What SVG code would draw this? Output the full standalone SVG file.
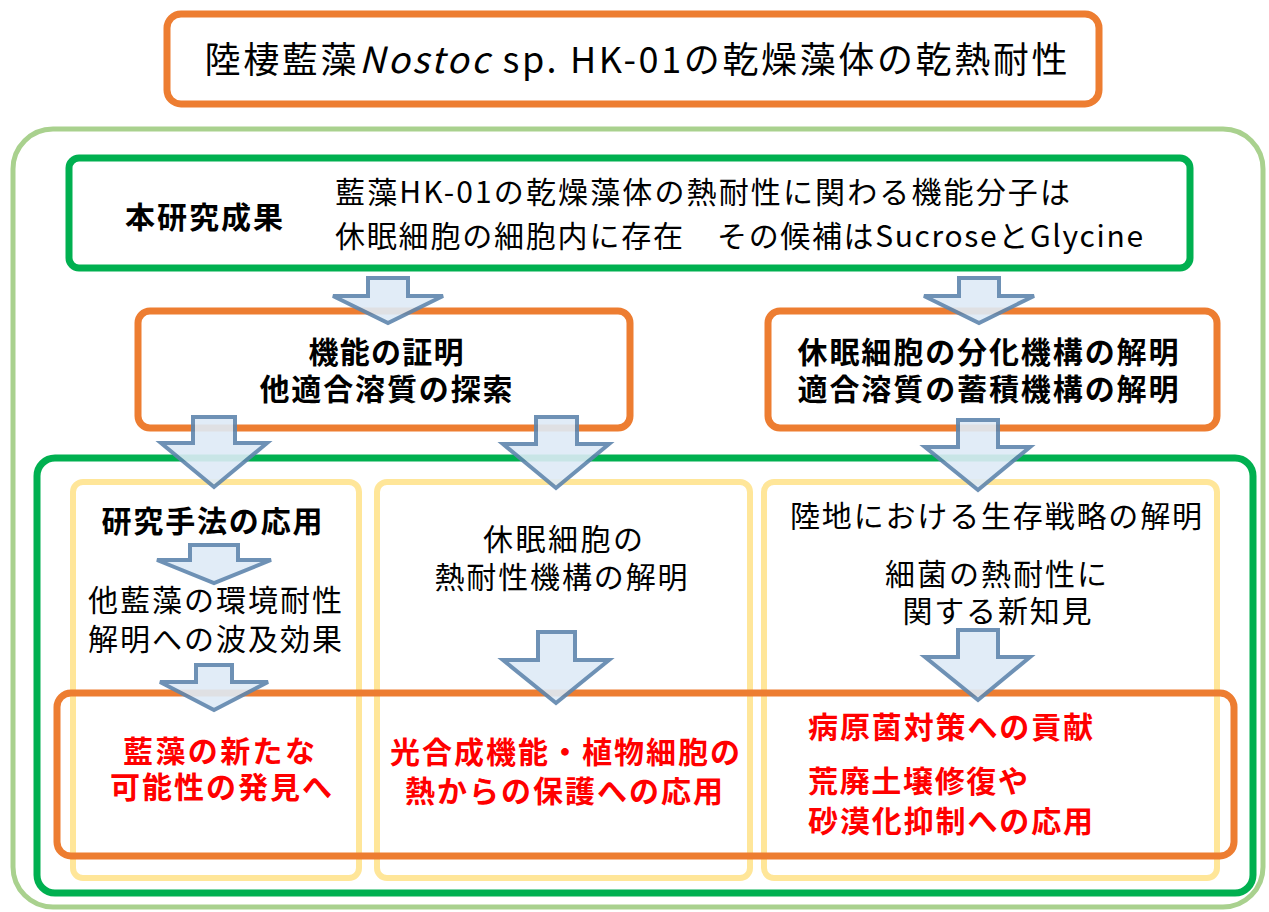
<svg xmlns="http://www.w3.org/2000/svg" width="1269" height="912" viewBox="0 0 1269 912">
<defs>
<style>
text{font-family:"Noto Sans CJK JP","Noto Sans",sans-serif;font-size:30px;fill:#000}
.c{text-anchor:middle}
.b{font-weight:bold}
.r{fill:#FF0000;font-weight:bold}
.or{fill:#fff;stroke:#ED7D31;stroke-width:7}
.gr{fill:#fff;stroke:#00B050;stroke-width:7}
.lg{fill:#fff;stroke:#A9D18E;stroke-width:5}
.ye{fill:none;stroke:#FFE699;stroke-width:6}
.ob{fill:none;stroke:#ED7D31;stroke-width:7}
.ar{fill:#DEEBF7;stroke:#5F86AE;stroke-width:4;stroke-linejoin:miter;opacity:0.9}
</style>
</defs>
<rect width="1269" height="912" fill="#fff"/>
<g id="outer-frame"><rect class="lg" x="13" y="129" width="1250" height="778" rx="40"/></g>
<g id="title"><rect class="or" x="167" y="14" width="932" height="90" rx="14" stroke-width="8"/>
<text class="c" x="636" y="73" textLength="863" lengthAdjust="spacing" style="font-size:36px">陸棲藍藻<tspan font-style="italic">Nostoc</tspan> sp. HK-01の乾燥藻体の乾熱耐性</text></g>
<g id="result"><rect class="gr" x="69" y="158" width="1121" height="110" rx="10"/>
<text class="c b" x="204" y="228" textLength="158" lengthAdjust="spacing">本研究成果</text>
<text><tspan x="335" y="203" textLength="735" lengthAdjust="spacing">藍藻HK-01の乾燥藻体の熱耐性に関わる機能分子は</tspan><tspan x="335" y="247" textLength="348" lengthAdjust="spacing">休眠細胞の細胞内に存在</tspan><tspan x="717" y="247" textLength="426" lengthAdjust="spacing">その候補はSucroseとGlycine</tspan></text></g>
<g id="proof"><rect class="or" x="138" y="311" width="492" height="117" rx="12"/>
<text class="c b"><tspan x="386" y="363" textLength="155" lengthAdjust="spacing">機能の証明</tspan><tspan x="386" y="400" textLength="253" lengthAdjust="spacing">他適合溶質の探索</tspan></text></g>
<g id="mechanism"><rect class="or" x="768" y="311" width="449" height="117" rx="12"/>
<text class="c b"><tspan x="988" y="363" textLength="381" lengthAdjust="spacing">休眠細胞の分化機構の解明</tspan><tspan x="988" y="400" textLength="381" lengthAdjust="spacing">適合溶質の蓄積機構の解明</tspan></text></g>
<g id="outcomes-frame"><rect class="gr" x="37" y="458" width="1216" height="435" rx="18"/></g>
<g id="col-left"><rect class="ye" x="73" y="482" width="286" height="396" rx="10"/>
<text class="c b" x="212" y="532" textLength="221" lengthAdjust="spacing">研究手法の応用</text>
<text class="c"><tspan x="215" y="611" textLength="254" lengthAdjust="spacing">他藍藻の環境耐性</tspan><tspan x="215" y="650" textLength="254" lengthAdjust="spacing">解明への波及効果</tspan></text></g>
<g id="col-middle"><rect class="ye" x="377" y="482" width="373" height="396" rx="10"/>
<text class="c"><tspan x="563" y="550" textLength="160" lengthAdjust="spacing">休眠細胞の</tspan><tspan x="561" y="588" textLength="253" lengthAdjust="spacing">熱耐性機構の解明</tspan></text></g>
<g id="col-right"><rect class="ye" x="764" y="482" width="453" height="396" rx="10"/>
<text class="c" x="996" y="527" textLength="412" lengthAdjust="spacing">陸地における生存戦略の解明</text>
<text class="c"><tspan x="996" y="585" textLength="222" lengthAdjust="spacing">細菌の熱耐性に</tspan><tspan x="997" y="622" textLength="189" lengthAdjust="spacing">関する新知見</tspan></text></g>
<g id="applications"><rect class="ob" x="57" y="693" width="1177" height="163" rx="14"/>
<text class="c r"><tspan x="219" y="762" textLength="192" lengthAdjust="spacing">藍藻の新たな</tspan><tspan x="221" y="798" textLength="222" lengthAdjust="spacing">可能性の発見へ</tspan></text>
<text class="c r"><tspan x="565" y="763" textLength="350" lengthAdjust="spacing">光合成機能・植物細胞の</tspan><tspan x="564" y="802" textLength="318" lengthAdjust="spacing">熱からの保護への応用</tspan></text>
<text class="r" x="808" y="738" textLength="285" lengthAdjust="spacing">病原菌対策への貢献</text>
<text class="r"><tspan x="808" y="792" textLength="220" lengthAdjust="spacing">荒廃土壌修復や</tspan><tspan x="808" y="832" textLength="285" lengthAdjust="spacing">砂漠化抑制への応用</tspan></text></g>
<g id="connectors">
<polygon class="ar" points="368,278 408,278 408,296 443,296 388,323 333,296 368,296"/>
<polygon class="ar" points="959,278 999,278 999,296 1034,296 979,323 924,296 959,296"/>
<polygon class="ar" points="193,417 235,417 235,443 267,443 214,487 161,443 193,443"/>
<polygon class="ar" points="536,417 577,417 577,444 609,444 556,488 503,444 536,444"/>
<polygon class="ar" points="958,420 998,420 998,447 1030,447 978,490 925,447 958,447"/>
<polygon class="ar" points="190,545 238,545 238,560 271,560 214,583 157,560 190,560"/>
<polygon class="ar" points="538,632 575,632 575,660 609,660 556,703 503,660 538,660"/>
<polygon class="ar" points="958,630 998,630 998,657 1030,657 978,700 925,657 958,657"/>
<polygon class="ar" points="196,665 232,665 232,682 268,682 214,710 160,682 196,682"/>
</g>
</svg>
